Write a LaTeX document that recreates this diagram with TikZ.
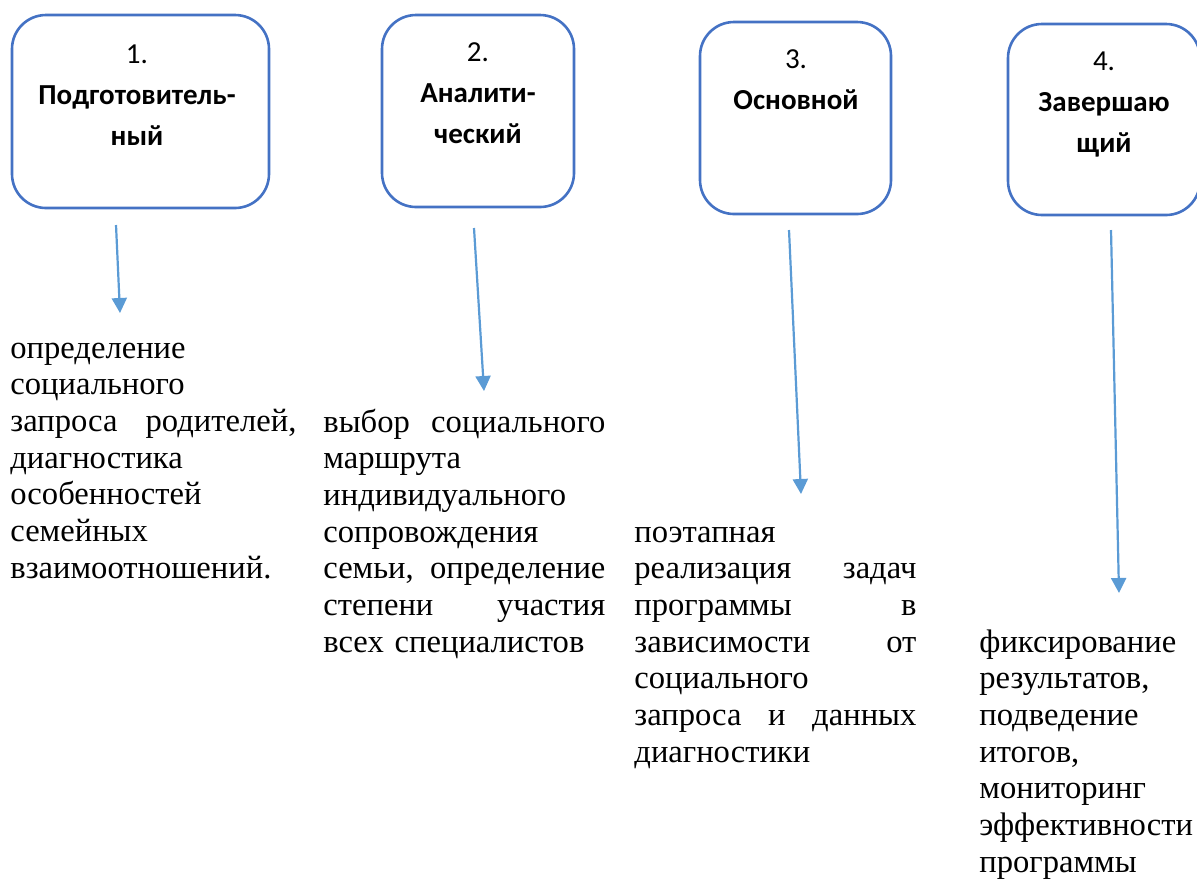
\documentclass[tikz,border=0pt]{standalone}
\usepackage{fontspec}
\setmainfont{Liberation Serif}
\newfontfamily\headfont{Carlito}
\usepackage{tikz}
\usetikzlibrary{arrows.meta}
\definecolor{boxblue}{HTML}{4472C4}
\definecolor{arrowblue}{HTML}{5B9BD5}
\tikzstyle{stage} = [rectangle, draw=boxblue, fill=white, line width=1.3pt,
    rounded corners=17pt, inner sep=0pt]
\tikzstyle{stagetext} = [text width=120pt, align=center, inner sep=0pt, anchor=base,
    font=\headfont\fontsize{14.5}{20.5}\selectfont]
\tikzstyle{desc} = [text width=141pt, align=left, inner sep=0pt, anchor=base west,
    font=\fontsize{16.3}{18.35}\selectfont]

\begin{document}
\begin{tikzpicture}[x=0.5pt,y=-0.5pt]
\useasboundingbox (0,0) rectangle (1197,880);

\tikzset{>={Triangle[length=7.5pt,width=7.5pt]}}
\tikzstyle{arrow} = [->, draw=arrowblue, fill=arrowblue, line width=1.1pt];

% stages
\node[stage, minimum width=128.5pt, minimum height=96.5pt] (s1) at (140.5,111.5) {};
\node[stage, minimum width=96pt, minimum height=96pt] (s2) at (478,111) {};
\node[stage, minimum width=95.5pt, minimum height=96pt] (s3) at (795.5,118) {};
\node[stage, minimum width=96pt, minimum height=95.5pt] (s4) at (1104,119.5) {};

\node[stagetext] (h1) at (137,63) {1.\\ \textbf{Подготовитель-}\\ \textbf{ный}};
\node[stagetext] (h2) at (478,61) {2.\\ \textbf{Аналити-}\\ \textbf{ческий}};
\node[stagetext] (h3) at (796,68) {3.\\ \textbf{Основной}};
\node[stagetext] (h4) at (1104,70) {4.\\ \textbf{Завершаю}\\ \textbf{щий}};

% arrows
\coordinate (a1) at (116,225);  \coordinate (b1) at (120,313);
\coordinate (a2) at (474,228);  \coordinate (b2) at (484,391);
\coordinate (a3) at (789,230);  \coordinate (b3) at (801,494);
\coordinate (a4) at (1111,230); \coordinate (b4) at (1119,593);
\draw[arrow] (a1) -- (b1);
\draw[arrow] (a2) -- (b2);
\draw[arrow] (a3) -- (b3);
\draw[arrow] (a4) -- (b4);

% descriptions
\node[desc, text width=143pt] (d1) at (10,358) {определение\\ социального\\
    запроса\hfill родителей,\\ диагностика\\ особенностей\\ семейных\\
    взаимоотношений.};
\node[desc] (d2) at (323,432) {выбор\hfill социального\\ маршрута\\
    индивидуального\\ сопровождения\\ семьи,\hfill определение\\
    степени\hfill участия\\ всех специалистов};
\node[desc] (d3) at (634,542) {поэтапная\\ реализация\hfill задач\\
    программы\hfill в\\ зависимости\hfill от\\ социального\\
    запроса\hfill и\hfill данных\\ диагностики};
\node[desc] (d4) at (979,652) {фиксирование\\ результатов,\\ подведение\\
    итогов,\\ мониторинг\\ эффективности\\ программы};

\end{tikzpicture}
\end{document}
